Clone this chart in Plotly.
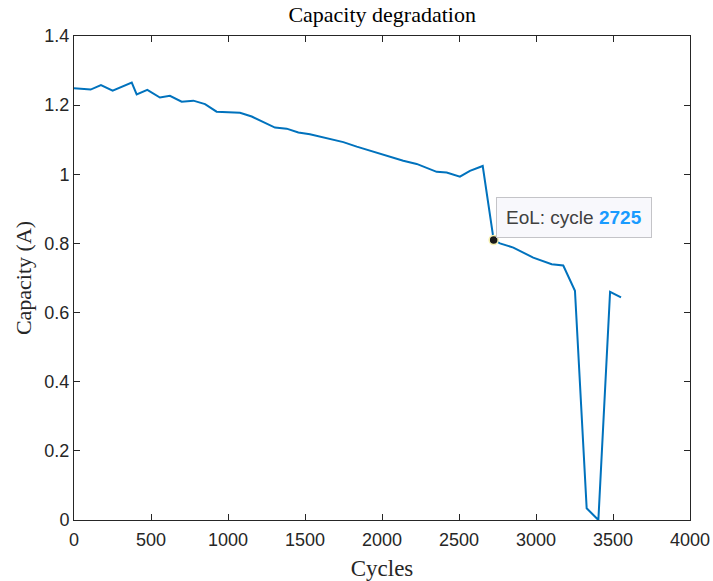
import plotly.graph_objects as go

# Measured discharge capacity per cycle
cycles = [0, 82, 108, 175, 251, 375, 407, 476, 558, 623, 699, 775, 851, 926,
          1078, 1154, 1229, 1305, 1381, 1457, 1532, 1749, 1836, 2052, 2138,
          2225, 2355, 2420, 2506, 2571, 2654, 2725, 2766, 2853, 2982, 3102,
          3177, 3253, 3329, 3405, 3481, 3552]
capacity = [1.249, 1.247, 1.245, 1.258, 1.242, 1.265, 1.231, 1.244, 1.222,
            1.227, 1.210, 1.213, 1.203, 1.181, 1.178, 1.167, 1.150, 1.135,
            1.132, 1.121, 1.116, 1.093, 1.080, 1.051, 1.039, 1.030, 1.007,
            1.005, 0.993, 1.010, 1.024, 0.810, 0.800, 0.788, 0.759, 0.740,
            0.736, 0.663, 0.034, 0.0, 0.660, 0.644]

# End-of-life marker
eol_cycle = 2725
eol_capacity = 0.810

x_ticks = [0, 500, 1000, 1500, 2000, 2500, 3000, 3500, 4000]
y_ticks = [0, 0.2, 0.4, 0.6, 0.8, 1.0, 1.2, 1.4]
y_tick_text = ["0", "0.2", "0.4", "0.6", "0.8", "1", "1.2", "1.4"]

line_color = "#0072BD"
axis_color = "#262626"
tick_font = dict(family="Liberation Sans, Arial, sans-serif", size=18, color=axis_color)
serif = "Liberation Serif, Times New Roman, serif"

fig = go.Figure()

fig.add_trace(go.Scatter(
    x=cycles, y=capacity, mode="lines",
    line=dict(color=line_color, width=2),
    hoverinfo="skip", showlegend=False,
))

fig.add_trace(go.Scatter(
    x=[eol_cycle], y=[eol_capacity], mode="markers",
    marker=dict(color="#1a1a1a", size=9, line=dict(color="#f5f0b0", width=1.5)),
    hoverinfo="skip", showlegend=False,
))

fig.add_annotation(
    x=eol_cycle, y=eol_capacity, xref="x", yref="y",
    text=("EoL: cycle <b><span style='color:#1a9bff'>%d</span></b>" % eol_cycle),
    showarrow=False, xanchor="left", yanchor="bottom",
    xshift=2, yshift=2,
    font=dict(family="Liberation Sans, Arial, sans-serif", size=19, color="#404040"),
    bgcolor="#f8f8fc", bordercolor="#c4c4c8", borderwidth=1, borderpad=9,
)

fig.update_layout(
    width=713, height=581,
    margin=dict(l=74, r=23, t=36, b=61, autoexpand=False),
    paper_bgcolor="white", plot_bgcolor="white",
    title=dict(text="Capacity degradation", x=0.536, xanchor="center",
               y=0.975, yanchor="middle",
               font=dict(family=serif, size=22, color="black")),
)

fig.update_xaxes(
    range=[0, 4000], tickvals=x_ticks, ticktext=[str(v) for v in x_ticks],
    ticks="inside", ticklen=6, tickcolor=axis_color, tickwidth=1,
    showline=True, linecolor=axis_color, linewidth=1, mirror="ticks",
    showgrid=False, zeroline=False, tickfont=tick_font, automargin=False,
    ticklabelstandoff=3,
    title=dict(text="Cycles", font=dict(family=serif, size=23, color=axis_color), standoff=12),
)

fig.update_yaxes(
    range=[0, 1.4], tickvals=y_ticks, ticktext=y_tick_text,
    ticks="inside", ticklen=6, tickcolor=axis_color, tickwidth=1,
    showline=True, linecolor=axis_color, linewidth=1, mirror="ticks",
    showgrid=False, zeroline=False, tickfont=tick_font, automargin=False,
    title=dict(text="Capacity (A)", font=dict(family=serif, size=22, color=axis_color), standoff=6),
)

fig.write_html("out.html")
